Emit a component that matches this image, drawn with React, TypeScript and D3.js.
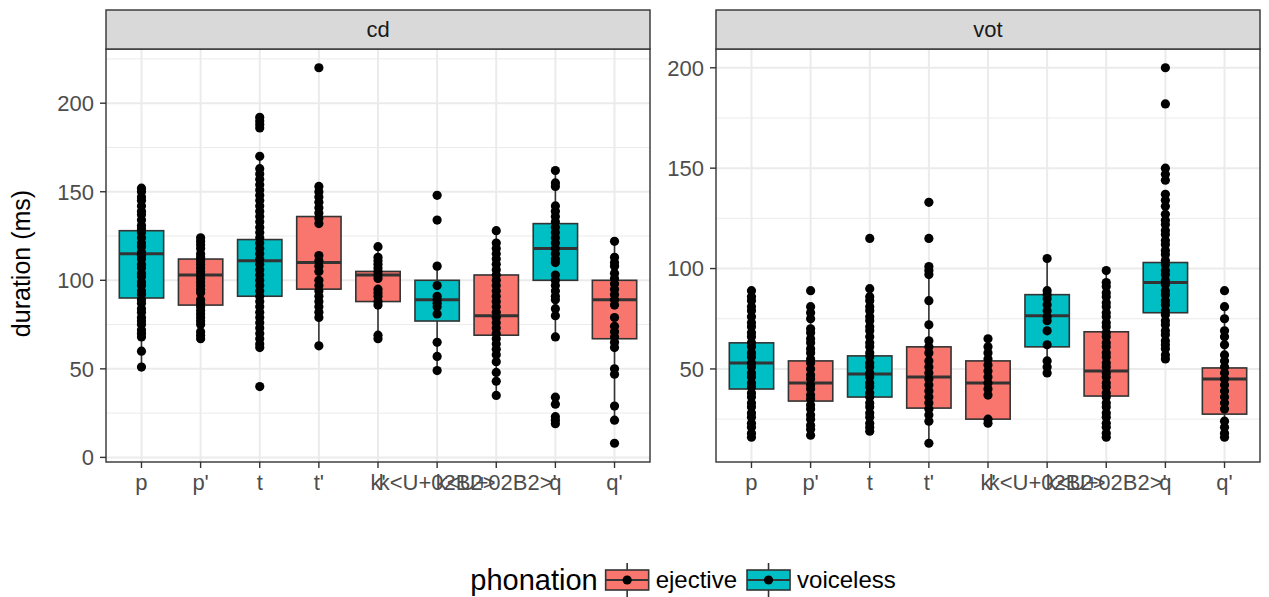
import React from "react";
import * as d3 from "d3";

// ---------- data ----------
const categories = ["p", "p'", "t", "t'", "k'", "k<U+02B2>", "k<U+02B2>'", "q", "q'"];
const phonation = ["voiceless", "ejective", "voiceless", "ejective", "ejective", "voiceless", "ejective", "voiceless", "ejective"];
const phonationLevels = ["ejective", "voiceless"];
const facets = ["cd", "vot"];

// closure duration (cd) box statistics
const cdLower = [51, 67, 62, 63, 67, 49, 35, 68, 21];
const cdQ1 = [90, 86, 91, 95, 88, 77, 69, 100, 67];
const cdMedian = [115, 103, 111, 110, 103, 89, 80, 118, 89];
const cdQ3 = [128, 112, 123, 136, 105, 100, 103, 132, 100];
const cdUpper = [152, 124, 170, 153, 119, 108, 128, 162, 122];
const cdPoints: number[][] = [
  [152, 150, 147, 145, 142, 139, 137, 134, 131, 129, 127, 124, 121, 119, 116, 114, 112, 109, 107, 104, 102, 99, 97, 94, 92, 89, 87, 84, 82, 79, 77, 75, 72, 70, 68, 60, 51],
  [124, 122, 120, 118, 115, 113, 111, 109, 107, 105, 103, 101, 99, 97, 95, 93, 89, 87, 85, 83, 81, 79, 77, 75, 71, 69, 67],
  [192, 190, 188, 186, 170, 163, 160, 157, 154, 151, 148, 145, 142, 139, 136, 133, 130, 127, 124, 121, 118, 115, 112, 109, 106, 103, 100, 97, 94, 91, 88, 85, 82, 79, 76, 73, 70, 67, 64, 62, 40],
  [220, 153, 150, 147, 144, 141, 138, 135, 132, 114, 111, 108, 105, 100, 97, 94, 91, 88, 85, 82, 79, 63],
  [119, 113, 111, 109, 107, 105, 103, 101, 95, 93, 91, 88, 86, 69, 67],
  [148, 134, 108, 97, 91, 89, 87, 85, 81, 65, 57, 49],
  [128, 121, 118, 115, 112, 109, 106, 103, 100, 97, 94, 91, 88, 85, 82, 79, 76, 73, 70, 67, 64, 61, 58, 54, 48, 43, 35],
  [162, 155, 153, 142, 139, 136, 133, 130, 127, 124, 121, 118, 115, 112, 110, 103, 100, 97, 94, 91, 89, 84, 80, 68, 34, 30, 23, 21, 19],
  [122, 113, 110, 108, 104, 101, 98, 95, 92, 89, 86, 79, 74, 71, 68, 65, 62, 50, 47, 29, 21, 8],
];
const cdTicks = [0, 50, 100, 150, 200];

// voice onset time (vot) box statistics
const votLower = [16, 17, 19, 13, 23, 48, 16, 55, 16];
const votQ1 = [40, 34, 36, 30.5, 25, 61, 36.5, 78, 27.5];
const votMedian = [53, 43, 47.5, 46, 43, 76.5, 49, 93, 45];
const votQ3 = [63, 54, 56.5, 61, 54, 87, 68.5, 103, 50.5];
const votUpper = [89, 81, 86, 101, 65, 105, 99, 137, 81];
const votPoints: number[][] = [
  [89, 86, 84, 81, 79, 76, 73, 71, 68, 66, 63, 61, 58, 56, 53, 51, 48, 46, 43, 41, 38, 36, 33, 31, 28, 26, 23, 21, 18, 16],
  [89, 81, 78, 75, 70, 68, 65, 63, 60, 58, 55, 53, 50, 47, 45, 42, 40, 37, 35, 32, 30, 27, 25, 22, 20, 17],
  [115, 90, 86, 84, 81, 79, 76, 74, 71, 69, 66, 63, 61, 58, 56, 53, 51, 48, 46, 43, 41, 38, 36, 33, 31, 28, 26, 23, 21, 19],
  [133, 115, 101, 99, 97, 84, 72, 64, 61, 58, 54, 51, 48, 45, 42, 39, 36, 33, 30, 27, 24, 13],
  [65, 61, 58, 55, 52, 49, 46, 43, 40, 37, 25, 23],
  [105, 89, 87, 85, 82, 79, 76, 74, 69, 62, 54, 51, 48],
  [99, 93, 91, 88, 86, 83, 81, 78, 76, 73, 71, 68, 66, 63, 61, 58, 56, 53, 51, 48, 46, 43, 41, 38, 36, 33, 31, 28, 26, 23, 21, 18, 16],
  [200, 182, 150, 147, 144, 137, 134, 131, 127, 124, 122, 119, 117, 114, 112, 109, 107, 104, 102, 99, 97, 94, 92, 89, 87, 84, 82, 79, 77, 74, 72, 69, 67, 64, 62, 60, 57, 55],
  [89, 81, 75, 69, 66, 62, 57, 54, 51, 48, 45, 42, 39, 36, 33, 30, 24, 21, 18, 16],
];
const votTicks = [50, 100, 150, 200];

const yTitle = "duration (ms)";
const legendTitle = "phonation";

// ---------- styling / layout ----------
const W = 1269;
const H = 597;
const FONT = "'Liberation Sans', Arial, Helvetica, sans-serif";
const fillColor = d3.scaleOrdinal<string, string>().domain(phonationLevels).range(["#F8766D", "#00BFC4"]);
const panelX = [[106, 650], [716, 1260]];
const panelTop = 49;
const panelBottom = 462;
const stripTop = 10;
const axisText = 22;
const yTitleSize = 25;
const legendTitleSize = 29;
const legendText = 24;
const grid = "#EBEBEB";
const dark = "#333333";
const pointR = 4.6;

function measure(text: string, size: number): number {
  const ctx = document.createElement("canvas").getContext("2d");
  if (!ctx) return text.length * size * 0.5;
  ctx.font = `${size}px 'Liberation Sans', Arial, sans-serif`;
  return ctx.measureText(text).width;
}

type PanelData = {
  name: string;
  lower: number[];
  q1: number[];
  median: number[];
  q3: number[];
  upper: number[];
  points: number[][];
  ticks: number[];
};

const panels: PanelData[] = [
  { name: facets[0], lower: cdLower, q1: cdQ1, median: cdMedian, q3: cdQ3, upper: cdUpper, points: cdPoints, ticks: cdTicks },
  { name: facets[1], lower: votLower, q1: votQ1, median: votMedian, q3: votQ3, upper: votUpper, points: votPoints, ticks: votTicks },
];

function Panel({ p, idx }: { p: PanelData; idx: number }) {
  const [x0, x1] = panelX[idx];
  const x = d3.scalePoint<number>().domain(d3.range(categories.length)).range([x0, x1]).padding(0.6);
  const allVals = [...p.points.flat(), ...p.lower, ...p.upper];
  const lo = d3.min(allVals) as number;
  const hi = d3.max(allVals) as number;
  const pad = (hi - lo) * 0.05;
  const y = d3.scaleLinear().domain([lo - pad, hi + pad]).range([panelBottom, panelTop]);
  const [d0, d1] = y.domain();
  const step = p.ticks[1] - p.ticks[0];
  const minor: number[] = [];
  for (let i = -1; i < p.ticks.length; i++) {
    const v = (i < 0 ? p.ticks[0] - step : p.ticks[i]) + step / 2;
    if (v > d0 && v < d1) minor.push(v);
  }
  const bw = x.step() * 0.75;
  return (
    <g>
      <rect x={x0} y={panelTop} width={x1 - x0} height={panelBottom - panelTop} fill="white" />
      {minor.map((v) => (
        <line key={"mn" + v} x1={x0} x2={x1} y1={y(v)} y2={y(v)} stroke={grid} strokeWidth={1} />
      ))}
      {p.ticks.map((v) => (
        <line key={"mj" + v} x1={x0} x2={x1} y1={y(v)} y2={y(v)} stroke={grid} strokeWidth={2} />
      ))}
      {categories.map((c, i) => (
        <line key={"vx" + i} x1={x(i)} x2={x(i)} y1={panelTop} y2={panelBottom} stroke={grid} strokeWidth={2} />
      ))}
      {categories.map((c, i) => {
        const cx = x(i) as number;
        return (
          <g key={"box" + i}>
            <line x1={cx} x2={cx} y1={y(p.upper[i])} y2={y(p.q3[i])} stroke={dark} strokeWidth={1.6} />
            <line x1={cx} x2={cx} y1={y(p.q1[i])} y2={y(p.lower[i])} stroke={dark} strokeWidth={1.6} />
            <rect
              x={cx - bw / 2}
              y={y(p.q3[i])}
              width={bw}
              height={y(p.q1[i]) - y(p.q3[i])}
              fill={fillColor(phonation[i])}
              stroke={dark}
              strokeWidth={1.6}
            />
            <line x1={cx - bw / 2} x2={cx + bw / 2} y1={y(p.median[i])} y2={y(p.median[i])} stroke={dark} strokeWidth={3} />
          </g>
        );
      })}
      {categories.map((c, i) =>
        p.points[i].map((v, j) => <circle key={"pt" + i + "_" + j} cx={x(i)} cy={y(v)} r={pointR} fill="black" />)
      )}
      <rect x={x0} y={panelTop} width={x1 - x0} height={panelBottom - panelTop} fill="none" stroke={dark} strokeWidth={1.4} />
      {/* strip */}
      <rect x={x0} y={stripTop} width={x1 - x0} height={panelTop - stripTop} fill="#D9D9D9" stroke={dark} strokeWidth={1.4} />
      <text x={(x0 + x1) / 2} y={(stripTop + panelTop) / 2 + 7.5} textAnchor="middle" fontSize={axisText} fill="#1A1A1A" fontFamily={FONT}>
        {p.name}
      </text>
      {/* y axis */}
      {p.ticks.map((v) => (
        <g key={"yt" + v}>
          <line x1={x0 - 6} x2={x0} y1={y(v)} y2={y(v)} stroke={dark} strokeWidth={1.4} />
          <text x={x0 - 12} y={y(v) + 7.8} textAnchor="end" fontSize={axisText} fill="#4D4D4D" fontFamily={FONT}>
            {v}
          </text>
        </g>
      ))}
      {/* x axis */}
      {categories.map((c, i) => (
        <g key={"xt" + i}>
          <line x1={x(i)} x2={x(i)} y1={panelBottom} y2={panelBottom + 6} stroke={dark} strokeWidth={1.4} />
          <text x={x(i)} y={panelBottom + 28} textAnchor="middle" fontSize={axisText} fill="#4D4D4D" fontFamily={FONT}>
            {c}
          </text>
        </g>
      ))}
    </g>
  );
}

function Legend() {
  const cy = 580;
  const K = 43;
  const tw = measure(legendTitle, legendTitleSize);
  const lw = phonationLevels.map((l) => measure(l, legendText));
  const gapTitle = 8;
  const gapKeyLabel = 7;
  const gapItems = 10;
  const total = tw + gapTitle + (K + gapKeyLabel + lw[0]) + gapItems + (K + gapKeyLabel + lw[1]);
  const start = (panelX[0][0] + panelX[1][1]) / 2 - total / 2;
  let cursor = start + tw + gapTitle;
  const items = phonationLevels.map((l, i) => {
    const kx = cursor;
    cursor += K + gapKeyLabel + lw[i] + gapItems;
    return { l, kx };
  });
  return (
    <g>
      <text x={start} y={cy + 10} fontSize={legendTitleSize} fill="black" fontFamily={FONT}>
        {legendTitle}
      </text>
      {items.map(({ l, kx }) => {
        const cx = kx + K / 2;
        return (
          <g key={l}>
            <line x1={cx} x2={cx} y1={cy - 17} y2={cy + 17} stroke={dark} strokeWidth={1.6} />
            <rect x={kx} y={cy - 10} width={K} height={20} fill={fillColor(l)} stroke={dark} strokeWidth={1.6} />
            <line x1={kx} x2={kx + K} y1={cy} y2={cy} stroke={dark} strokeWidth={2} />
            <circle cx={cx} cy={cy} r={pointR} fill="black" />
            <text x={kx + K + gapKeyLabel} y={cy + 8} fontSize={legendText} fill="black" fontFamily={FONT}>
              {l}
            </text>
          </g>
        );
      })}
    </g>
  );
}

export default function App() {
  return (
    <svg width={W} height={H} style={{ position: "absolute", left: 0, top: 0, background: "white" }}>
      <rect width={W} height={H} fill="white" />
      {panels.map((p, i) => (
        <Panel key={p.name} p={p} idx={i} />
      ))}
      <text
        transform={`translate(30, ${(panelTop + panelBottom) / 2 + 8}) rotate(-90)`}
        textAnchor="middle"
        fontSize={yTitleSize}
        fill="black"
        fontFamily={FONT}
      >
        {yTitle}
      </text>
      <Legend />
    </svg>
  );
}
